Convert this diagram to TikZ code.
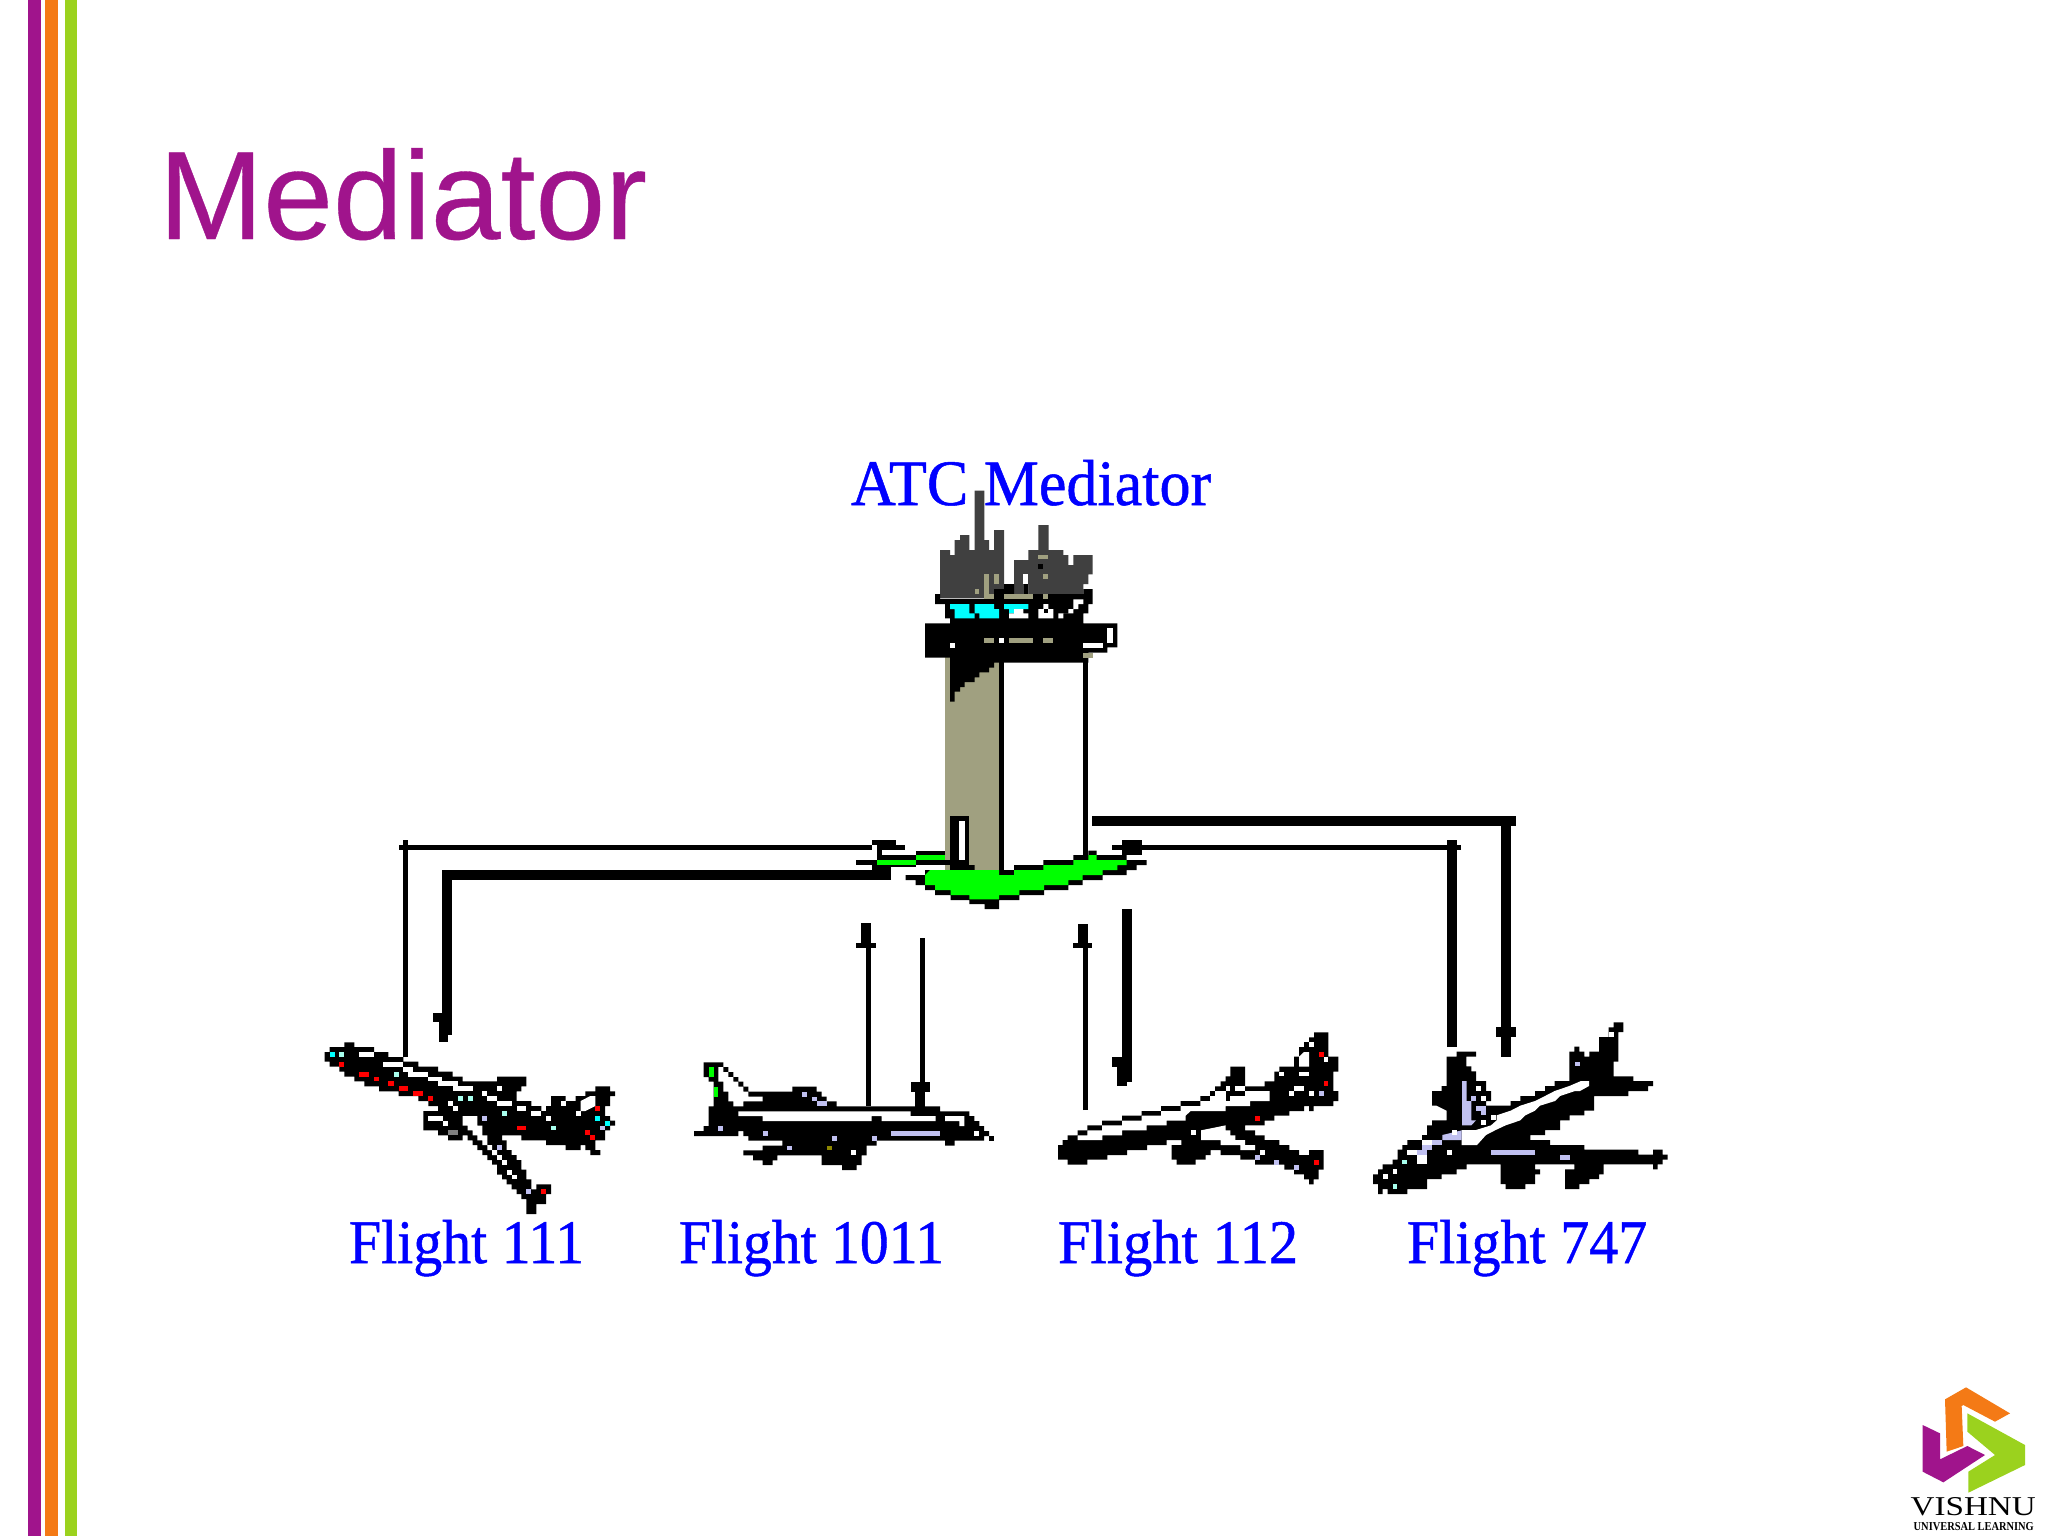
\documentclass[tikz,border=0pt]{standalone}
\usepackage{fontspec}
\usepackage{graphicx}
\setmainfont{Liberation Serif}
\newfontfamily\titlefont[FakeBold=0.3]{Liberation Sans}
\newfontfamily\labfont[FakeBold=0.8]{Liberation Serif}
\definecolor{vpurple}{HTML}{A0148C}
\definecolor{vorange}{HTML}{F47A16}
\definecolor{vgreen}{HTML}{9BD21E}
\definecolor{towertan}{HTML}{A0A080}
\definecolor{towergrey}{HTML}{404040}
\definecolor{pcyan}{HTML}{00FFFF}
\definecolor{pale}{HTML}{A8FFEE}
\definecolor{lav}{HTML}{C0C0F0}
\definecolor{pgreen}{HTML}{00FF00}
\definecolor{bluetext}{HTML}{0000FF}
\newcommand\cells[2]{\foreach \a/\b/\c/\d in {#2}{\fill[#1] (\a,\b) rectangle (\c,\d);}}
\tikzset{
  thinlink/.style={draw=black,line width=0.05cm,line join=miter},
  thicklink/.style={draw=black,line width=0.1cm,line join=miter},
  pixlabel/.style={anchor=base west,inner sep=0pt,outer sep=0pt,text=bluetext},
  crop/.style={shift={#1},scale=0.33333},
}
\newcommand\flabel[3]{\resizebox{#1cm}{#2cm}{\labfont #3}}
\begin{document}
\begin{tikzpicture}[x=0.01cm,y=-0.01cm]
\useasboundingbox (0,0) rectangle (2048,1536);
\fill[white] (0,0) rectangle (2048,1536);
% stripes
\fill[vpurple] (28,0) rectangle (41,1536);
\fill[vorange] (45,0) rectangle (58,1536);
\fill[vgreen] (65,0) rectangle (77,1536);
\node[anchor=base west,inner sep=0pt,text=vpurple] (title) at (158,239) {\titlefont\fontsize{35.7pt}{36pt}\selectfont Mediator};

% ---------- tower
\begin{scope}[crop={(820,440)}]
\fill[towertan] (375,650) rectangle (537,1300);
\fill[black] (537,660) rectangle (552,1305);
\fill[black] (790,660) rectangle (805,1250);
\fill[towergrey] (360,330)--(390,330)--(390,345)--(404,345)--(404,300)--(420,300)--(420,285)--(448,285)--(448,330)--(464,330)--(464,152)--(493,152)--(493,300)--(507,300)--(507,330)--(522,330)--(522,270)--(552,270)--(552,447)--(522,447)--(522,475)--(360,475)--cycle;
\fill[towergrey] (582,360)--(625,360)--(625,330)--(655,330)--(655,255)--(686,255)--(686,330)--(730,330)--(730,345)--(745,345)--(745,375)--(760,375)--(760,345)--(818,345)--(818,403)--(805,403)--(805,432)--(790,432)--(790,462)--(625,462)--(625,432)--(610,432)--(610,462)--(582,462)--cycle;
\fill[black] (345,462)--(360,462)--(360,477)--(522,477)--(522,447)--(552,447)--(552,432)--(582,432)--(582,462)--(610,462)--(610,432)--(625,432)--(625,462)--(790,462)--(790,447)--(818,447)--(818,492)--(805,492)--(805,520)--(790,520)--(790,550)--(892,550)--(892,622)--(862,622)--(862,638)--(805,638)--(805,668)--(522,668)--(522,683)--(507,683)--(507,697)--(478,697)--(478,712)--(464,712)--(464,726)--(434,726)--(434,741)--(420,741)--(420,755)--(404,755)--(404,785)--(390,785)--(390,653)--(315,653)--(315,550)--(390,550)--(390,535)--(375,535)--(375,492)--(345,492)--cycle;
\cells{towertan}{492/403/507/462,522/403/537/432,464/447/478/462,492/462/522/477,552/462/640/477,670/462/685/477,655/345/685/358,670/403/685/418,492/595/522/610,567/595/640/610,670/595/700/610,790/640/818/653}
\cells{black}{655/373/670/388}
\cells{white}{610/403/625/432,862/565/878/610,790/610/848/625,537/595/552/610,390/610/404/625}
\fill[pcyan] (390,492)--(448,492)--(448,520)--(464,520)--(464,535)--(404,535)--(404,507)--(390,507)--cycle;
\fill[pcyan] (464,492)--(522,492)--(522,507)--(537,507)--(537,535)--(478,535)--(478,520)--(464,520)--cycle;
\fill[pcyan] (552,492)--(625,492)--(625,507)--(582,507)--(582,520)--(567,520)--(567,507)--(552,507)--cycle;
\fill[white] (582,507)--(610,507)--(610,520)--(625,520)--(625,535)--(567,535)--(567,520)--(582,520)--cycle;
\fill[white] (655,507)--(670,507)--(670,492)--(685,492)--(685,507)--(700,507)--(700,535)--(655,535)--cycle;
\cells{black}{672/508/685/520}
\fill[white] (715,520)--(745,520)--(745,507)--(760,507)--(760,478)--(790,478)--(790,492)--(775,492)--(775,507)--(760,507)--(760,520)--(730,520)--(730,535)--(715,535)--cycle;
% door
\cells{black}{390/1127/448/1290}
\cells{white}{418/1142/434/1260}
% base
\fill[black] (257,1305)--(315,1305)--(315,1290)--(404,1290)--(404,1275)--(464,1275)--(464,1290)--(582,1290)--(582,1275)--(670,1275)--(670,1260)--(760,1260)--(760,1245)--(805,1245)--(805,1232)--(830,1232)--(830,1245)--(920,1245)--(920,1260)--(980,1260)--(980,1275)--(950,1275)--(950,1290)--(920,1290)--(920,1305)--(848,1305)--(848,1320)--(788,1320)--(788,1335)--(745,1335)--(745,1350)--(672,1350)--(672,1365)--(598,1365)--(598,1380)--(537,1380)--(537,1407)--(494,1407)--(494,1392)--(448,1392)--(448,1380)--(392,1380)--(392,1365)--(345,1365)--(345,1350)--(315,1350)--(315,1335)--(287,1335)--(287,1320)--(257,1320)--cycle;
\fill[pgreen] (315,1305)--(330,1290)--(537,1290)--(537,1305)--(582,1305)--(582,1290)--(670,1290)--(670,1275)--(760,1275)--(760,1260)--(805,1260)--(805,1245)--(830,1245)--(830,1260)--(920,1260)--(920,1275)--(892,1275)--(892,1290)--(848,1290)--(848,1305)--(788,1305)--(788,1320)--(745,1320)--(745,1335)--(672,1335)--(672,1350)--(598,1350)--(598,1365)--(537,1365)--(537,1378)--(448,1378)--(448,1365)--(392,1365)--(392,1350)--(345,1350)--(345,1335)--(315,1335)--cycle;
\cells{black}{287/1232/375/1245,170/1245/287/1260,287/1260/404/1275,108/1260/170/1275,170/1275/287/1282}
\cells{pgreen}{287/1245/375/1260,170/1260/287/1275}
\cells{black}{155/1200/228/1215,170/1215/255/1230,170/1230/185/1245,155/1275/212/1290}
\end{scope}

% ---------- plane 1
\begin{scope}[crop={(320,1030)}]
\fill[black] (14,66)--(29,66)--(29,51)--(73,51)--(73,37)--(103,37)--(103,51)--(162,51)--(162,66)--(205,66)--(205,81)--(250,81)--(250,95)--(295,95)--(295,110)--(354,110)--(354,125)--(398,125)--(398,140)--(428,140)--(428,154)--(531,154)--(531,140)--(619,140)--(619,169)--(604,169)--(604,184)--(590,184)--(590,213)--(634,213)--(634,228)--(664,228)--(664,243)--(678,243)--(678,228)--(693,228)--(693,198)--(737,198)--(737,213)--(767,213)--(767,198)--(796,198)--(796,184)--(826,184)--(826,169)--(870,169)--(870,184)--(885,184)--(885,198)--(870,198)--(870,228)--(855,228)--(855,258)--(870,258)--(870,272)--(885,272)--(885,287)--(870,287)--(870,301)--(855,301)--(855,331)--(826,331)--(826,360)--(841,360)--(841,375)--(811,375)--(811,360)--(796,360)--(796,345)--(782,345)--(782,360)--(737,360)--(737,345)--(678,345)--(678,331)--(604,331)--(604,316)--(546,316)--(546,331)--(560,331)--(560,360)--(575,360)--(575,375)--(590,375)--(590,390)--(604,390)--(604,419)--(619,419)--(619,448)--(634,448)--(634,478)--(649,478)--(649,463)--(693,463)--(693,492)--(678,492)--(678,522)--(649,522)--(649,552)--(619,552)--(619,507)--(604,507)--(604,492)--(590,492)--(590,478)--(575,478)--(575,463)--(560,463)--(560,448)--(546,448)--(546,434)--(531,434)--(531,404)--(516,404)--(516,390)--(502,390)--(502,375)--(487,375)--(487,360)--(472,360)--(472,345)--(458,345)--(458,331)--(443,331)--(443,316)--(428,316)--(428,331)--(384,331)--(384,316)--(354,316)--(354,301)--(310,301)--(310,243)--(354,243)--(354,228)--(325,228)--(325,213)--(295,213)--(295,198)--(236,198)--(236,184)--(177,184)--(177,169)--(133,169)--(133,154)--(103,154)--(103,140)--(73,140)--(73,125)--(58,125)--(58,110)--(29,110)--(29,95)--(14,95)--cycle;
\cells{white}{118/66/162/81,190/95/250/110,250/110/280/125,265/125/325/140,325/140/365/154,354/154/413/169,398/169/458/184,487/184/502/198,531/169/546/184,502/198/531/213,531/213/575/228,590/228/619/243,634/243/664/258,678/258/693/272,384/213/398/228,398/228/413/243,325/258/369/272,369/272/384/287,767/243/782/258,722/213/737/228,531/375/546/390,546/390/560/404,560/419/575/434,575/434/590/448}
\fill[white] (782,213)--(811,198)--(826,198)--(826,228)--(796,243)--(782,243)--cycle;
\fill[white] (428,258)--(472,258)--(472,287)--(487,287)--(487,316)--(502,316)--(502,345)--(516,345)--(516,360)--(531,360)--(531,375)--(516,375)--(516,360)--(502,360)--(502,345)--(487,345)--(487,331)--(472,331)--(472,316)--(458,316)--(458,301)--(443,301)--(443,287)--(428,287)--cycle;
\cells{pcyan}{29/66/44/81,826/258/841/272,855/272/870/287}
\cells{pale}{58/66/73/81,221/125/236/140,413/198/428/213,443/198/458/213,546/243/560/258,693/287/708/301}
\cells{red}{58/95/73/110,118/125/148/140,162/140/177/154,205/154/221/169,236/169/265/184,280/184/310/198,325/198/340/213,590/287/619/301,826/228/841/243,796/301/811/316,811/316/826/331,664/478/678/492}
\cells{lav}{487/258/502/272,531/345/546/360,619/478/634/492,841/287/855/301}
\cells{gray}{384/301/413/316}
\end{scope}

% ---------- plane 2
\begin{scope}[crop={(690,1050)}]
\fill[black] (41,37)--(100,37)--(100,51)--(115,51)--(115,66)--(130,66)--(130,81)--(145,81)--(145,95)--(160,95)--(160,110)--(175,110)--(175,125)--(307,125)--(307,110)--(380,110)--(380,125)--(395,125)--(395,140)--(410,140)--(410,154)--(440,154)--(440,169)--(750,169)--(750,184)--(838,184)--(838,198)--(853,198)--(853,213)--(868,213)--(868,228)--(882,228)--(882,243)--(897,243)--(897,258)--(882,258)--(882,272)--(794,272)--(794,287)--(765,287)--(765,272)--(560,272)--(560,287)--(530,287)--(530,316)--(515,316)--(515,345)--(500,345)--(500,360)--(456,360)--(456,345)--(395,345)--(395,316)--(262,316)--(262,331)--(248,331)--(248,345)--(218,345)--(218,331)--(189,331)--(189,316)--(160,316)--(160,301)--(218,301)--(218,287)--(277,287)--(277,272)--(190,272)--(175,272)--(175,258)--(160,258)--(160,243)--(145,243)--(145,258)--(12,258)--(12,243)--(41,243)--(41,228)--(56,228)--(56,169)--(71,169)--(71,95)--(56,95)--(56,81)--(41,81)--cycle;
\cells{black}{897/258/912/272}
\fill[white] (85,51)--(100,51)--(100,66)--(115,66)--(115,81)--(130,81)--(130,95)--(145,95)--(145,110)--(160,110)--(160,125)--(175,125)--(175,140)--(218,140)--(218,154)--(160,154)--(160,169)--(130,169)--(130,154)--(115,154)--(115,125)--(100,125)--(100,95)--(85,95)--cycle;
\fill[white] (145,184)--(662,184)--(662,198)--(737,198)--(737,213)--(575,213)--(575,198)--(545,198)--(545,213)--(218,213)--(218,198)--(145,198)--cycle;
\fill[white] (765,198)--(823,198)--(823,228)--(808,228)--(808,213)--(765,213)--cycle;
\cells{white}{853/243/868/258,482/301/497/316}
\cells{pgreen}{56/51/71/81,71/110/85/140}
\cells{lav}{85/228/100/243,218/243/233/258,337/125/352/140,366/140/381/154,381/154/410/169,425/258/440/272,292/287/307/301,545/258/560/272,603/243/750/258}
\cells{olive}{410/287/425/301}
\end{scope}

% ---------- plane 3
\begin{scope}[crop={(1050,1025)}]
\fill[black] (24,360)--(38,360)--(38,345)--(53,345)--(53,331)--(83,331)--(83,316)--(112,316)--(112,301)--(156,301)--(156,287)--(216,287)--(216,272)--(275,272)--(275,258)--(333,258)--(333,243)--(392,243)--(392,228)--(451,228)--(451,213)--(480,213)--(480,198)--(495,198)--(495,184)--(512,184)--(512,169)--(527,169)--(527,154)--(541,154)--(541,125)--(585,125)--(585,184)--(644,184)--(644,169)--(673,169)--(673,140)--(688,140)--(688,125)--(732,125)--(732,95)--(747,95)--(747,66)--(762,66)--(762,51)--(777,51)--(777,37)--(792,37)--(792,22)--(835,22)--(835,66)--(835,95)--(865,95)--(865,140)--(850,140)--(850,198)--(865,198)--(865,228)--(850,228)--(850,243)--(791,243)--(791,258)--(777,258)--(777,243)--(762,243)--(762,258)--(718,258)--(718,272)--(673,272)--(673,287)--(644,287)--(644,301)--(585,301)--(585,316)--(615,316)--(615,331)--(644,331)--(644,345)--(688,345)--(688,360)--(718,360)--(718,375)--(747,375)--(747,390)--(777,390)--(777,375)--(821,375)--(821,434)--(806,434)--(806,463)--(791,463)--(791,478)--(777,478)--(777,463)--(762,463)--(762,448)--(732,448)--(732,434)--(703,434)--(703,419)--(615,419)--(615,404)--(571,404)--(571,390)--(512,390)--(512,375)--(482,375)--(482,390)--(467,390)--(467,404)--(437,404)--(437,419)--(380,419)--(380,404)--(365,404)--(365,360)--(394,360)--(394,345)--(350,345)--(350,360)--(291,360)--(291,375)--(231,375)--(231,390)--(172,390)--(172,404)--(112,404)--(112,419)--(53,419)--(53,404)--(24,404)--cycle;
\fill[white] (83,331)--(112,331)--(112,316)--(156,316)--(156,301)--(216,301)--(216,287)--(275,287)--(275,272)--(333,272)--(333,258)--(392,258)--(392,243)--(451,243)--(451,228)--(480,228)--(480,213)--(585,213)--(585,198)--(659,198)--(659,228)--(600,228)--(600,243)--(527,243)--(527,258)--(422,258)--(407,272)--(407,287)--(350,287)--(350,301)--(290,301)--(290,316)--(216,316)--(216,331)--(157,331)--(157,345)--(83,345)--cycle;
\cells{white}{495/198/527/213,527/184/541/198,555/184/585/198,688/140/703/154,747/140/777/154,732/184/762/198,718/198/732/213,777/198/792/213,777/51/792/66,821/95/835/110,423/316/437/331,629/375/644/390}
\cells{black}{527/198/541/228}
\fill[white] (747,95)--(762,81)--(777,81)--(777,125)--(747,125)--cycle;
\fill[white] (453,316)--(527,301)--(527,316)--(541,316)--(541,331)--(556,331)--(556,345)--(585,345)--(585,360)--(615,360)--(615,375)--(571,375)--(571,360)--(512,360)--(512,345)--(453,345)--cycle;
\cells{red}{615/272/630/287,806/81/821/95,821/169/835/184,791/404/806/419}
\cells{lav}{615/390/630/404,673/404/688/419,732/419/747/434,806/198/821/213}
\end{scope}

% ---------- plane 4
\begin{scope}[crop={(1365,1015)}]
\fill[black] (24,478)--(39,478)--(39,463)--(53,463)--(53,448)--(83,448)--(83,434)--(98,434)--(98,404)--(112,404)--(112,390)--(127,390)--(127,375)--(171,375)--(171,360)--(186,360)--(186,331)--(201,331)--(201,316)--(245,316)--(245,287)--(215,272)--(201,272)--(201,228)--(230,228)--(230,213)--(245,213)--(245,125)--(275,125)--(275,110)--(333,110)--(333,125)--(304,125)--(304,154)--(319,154)--(319,169)--(333,169)--(333,198)--(363,198)--(363,228)--(378,228)--(378,258)--(363,258)--(363,272)--(437,272)--(437,258)--(466,258)--(466,243)--(510,243)--(510,228)--(540,228)--(540,213)--(569,213)--(569,198)--(613,198)--(613,110)--(628,110)--(628,95)--(643,95)--(643,110)--(658,110)--(658,125)--(673,125)--(673,110)--(702,110)--(702,66)--(731,66)--(731,37)--(746,37)--(746,22)--(775,22)--(775,51)--(760,51)--(760,140)--(746,140)--(746,184)--(805,184)--(805,198)--(864,198)--(864,213)--(849,213)--(849,228)--(790,228)--(790,243)--(687,243)--(687,287)--(658,287)--(658,301)--(614,301)--(614,316)--(585,316)--(585,345)--(540,345)--(540,360)--(496,360)--(496,375)--(555,375)--(555,390)--(658,390)--(658,404)--(820,404)--(820,419)--(864,419)--(864,404)--(893,404)--(893,419)--(908,419)--(908,434)--(893,434)--(893,448)--(878,448)--(878,463)--(864,463)--(864,448)--(716,448)--(716,478)--(702,478)--(702,492)--(673,492)--(673,507)--(643,507)--(643,522)--(600,522)--(600,463)--(628,463)--(628,448)--(510,448)--(510,463)--(525,463)--(525,478)--(510,478)--(510,507)--(481,507)--(481,522)--(422,522)--(422,507)--(407,507)--(407,448)--(305,448)--(305,463)--(275,463)--(275,478)--(230,478)--(230,492)--(186,492)--(186,522)--(127,522)--(127,537)--(68,537)--(68,522)--(53,522)--(53,537)--(39,537)--(39,507)--(24,507)--cycle;
\fill[white] (290,375)--(290,345)--(333,345)--(378,331)--(395,316)--(395,301)--(437,287)--(466,272)--(510,258)--(540,243)--(569,228)--(613,213)--(648,198)--(672,198)--(672,213)--(645,228)--(630,228)--(585,243)--(570,258)--(525,272)--(510,287)--(481,301)--(466,316)--(422,331)--(392,345)--(363,360)--(336,390)--(290,390)--cycle;
\fill[lav] (291,198)--(305,198)--(305,258)--(319,258)--(319,316)--(333,316)--(319,331)--(291,331)--cycle;
\fill[lav] (232,360)--(290,346)--(290,375)--(232,375)--cycle;
\cells{lav}{319/243/333/258,333/272/363/287,348/287/363/301,201/375/232/390,171/390/201/404,157/404/186/419,378/404/510/419,585/419/614/434,630/140/645/154}
\cells{white}{127/404/157/419,171/375/201/390,157/419/186/448,260/345/275/360,245/404/260/419,334/213/349/228,349/243/363/258,378/301/392/316,349/316/363/331,55/478/68/492,83/463/97/478,731/51/746/66}
\cells{pale}{112/434/127/448,83/507/97/522}
\end{scope}

% ---------- connectors
\coordinate (a1) at (405.5,1057);
\coordinate (a1t) at (405.5,840);
\coordinate (a1l) at (399,847.5);
\coordinate (a1r) at (872,847.5);
\draw[thinlink] (a1) -- (a1t);
\draw[thinlink] (a1l) -- (a1r);
\coordinate (b1s) at (891,875);
\coordinate (b1c) at (447,875);
\coordinate (b1e) at (447,1035);
\draw[thicklink] (b1s) -- (b1c) -- (b1e);
\cells{black}{433/1013/442/1022,439/1022/442/1035,439/1035/448/1042}
\coordinate (c1b) at (868.5,1106);
\coordinate (c1t) at (868.5,948);
\draw[thinlink] (c1b) -- (c1t);
\cells{black}{861/923/871/943,856/943/876/948}
\coordinate (d1t) at (922.5,938);
\coordinate (d1b) at (922.5,1082);
\draw[thinlink] (d1t) -- (d1b);
\cells{black}{911/1082/930/1092,915/1092/925/1107}
\coordinate (e1b) at (1085.5,1110);
\coordinate (e1t) at (1085.5,948);
\draw[thinlink] (e1b) -- (e1t);
\cells{black}{1078/924/1088/943,1073/943/1092/948}
\coordinate (f1t) at (1127,909);
\coordinate (f1b) at (1127,1067);
\draw[thicklink] (f1t) -- (f1b);
\cells{black}{1112/1057/1122/1067,1117/1067/1132/1082,1117/1082/1127/1086}
\coordinate (g1b) at (1452,1047);
\coordinate (g1t) at (1452,840);
\coordinate (g1r) at (1461,847.5);
\coordinate (g1l) at (1141,847.5);
\draw[thicklink] (g1b) -- (g1t);
\draw[thinlink] (g1r) -- (g1l);
\cells{black}{1122/840/1142/855,1112/845/1122/850}
\coordinate (h1s) at (1092,820.5);
\coordinate (h1e) at (1516,820.5);
\coordinate (h1t) at (1506,816);
\coordinate (h1b) at (1506,1057);
\draw[thicklink] (h1s) -- (h1e);
\draw[thicklink] (h1t) -- (h1b);
\cells{black}{1496/1027/1516/1037}

% ---------- labels
\node[pixlabel] (atc) at (851,505) {\flabel{3.6}{0.45}{ATC Mediator}};
\node[pixlabel] (f111) at (349,1263) {\flabel{2.35}{0.43}{Flight 111}};
\node[pixlabel] (f1011) at (679,1263) {\flabel{2.65}{0.43}{Flight 1011}};
\node[pixlabel] (f112) at (1058,1263) {\flabel{2.40}{0.43}{Flight 112}};
\node[pixlabel] (f747) at (1407,1263) {\flabel{2.40}{0.43}{Flight 747}};

% ---------- logo
\begin{scope}[crop={(1880,1370)}]
\fill[vorange] (195,88)--(258,52)--(390,130)--(345,155)--(250,105)--(245,108)--(250,228)--(200,245)--cycle;
\fill[vgreen] (262,130)--(435,225)--(435,285)--(265,368)--(265,305)--(345,255)--(262,185)--cycle;
\fill[vpurple] (128,165)--(180,190)--(180,268)--(262,228)--(315,255)--(190,337)--(128,305)--cycle;
\end{scope}
\node[anchor=base west,inner sep=0pt] (vishnu) at (1910,1515) {\resizebox{1.25cm}{0.18cm}{VISHNU}};
\node[anchor=base west,inner sep=0pt] (vul) at (1913,1530) {\resizebox{1.2cm}{0.08cm}{\bfseries UNIVERSAL LEARNING}};
\end{tikzpicture}
\end{document}
